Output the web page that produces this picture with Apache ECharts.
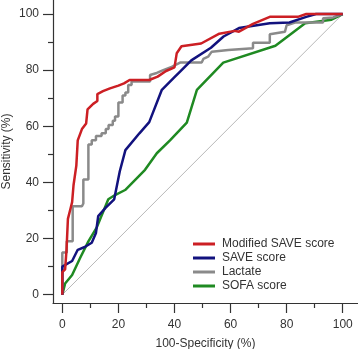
<!DOCTYPE html>
<html>
<head>
<meta charset="utf-8">
<script src="https://cdn.jsdelivr.net/npm/echarts@6/dist/echarts.min.js"></script>
<style>
  html, body { margin: 0; padding: 0; background: #fff; }
  #chart { width: 358px; height: 349px; }
</style>
</head>
<body>
<div id="chart"></div>
<script>
// ROC curves, [100-specificity, sensitivity]
const modifiedSave = [[0,0],[0,8],[1,9],[1.5,16],[2,27],[3,31],[3.5,33],[4,39],[5,46],[5.5,55],[7,59],[8.5,61],[9,66],[11,68],[12.5,69],[12.5,71.5],[14.5,72.5],[17,73.5],[20,74.5],[22,75.3],[24,76.5],[31,76.5],[34,77.7],[37,79.7],[40,81],[40.8,86],[42.5,88.5],[49.5,89.5],[56,93],[61.5,94],[63,93.7],[68,96.5],[74,99],[84,99],[87,100],[100,100]]
const saveScore = [[0,0],[0,10],[3.5,12],[5.5,16],[8,17],[10.5,18.5],[12,22],[12.8,28],[15.5,31],[18.5,34],[20.5,44],[22.5,51.5],[27.5,57.5],[31,61.5],[35.5,73],[40,77.5],[42,79.5],[46,83.5],[53,88],[57.5,92],[63,95],[74,96.7],[81,97],[87,99],[90.5,100],[100,100]]
const lactate = [[0,0],[0,15],[1.6,15],[1.6,19],[3.7,19],[3.7,31.5],[7,31.5],[7.5,32.5],[7.5,41],[9.3,41],[9.3,53.5],[10.5,53.5],[10.5,55],[12,55],[12,56.5],[14,56.5],[14,57.5],[15.5,57.5],[15.5,59],[16.5,59],[16.5,60.5],[18,60.5],[18,62],[18.8,62],[18.8,63.5],[20,63.5],[20,68.5],[21.5,68.5],[21.5,71],[22.5,71],[22.5,72],[23.5,72],[23.5,74.7],[24.7,74.7],[24.7,76],[31.3,76],[31.3,78.3],[33.7,79],[36,80],[39,81.2],[42,82.7],[49.7,82.7],[50.3,84],[52,84.8],[53.3,86.6],[59.2,87.2],[59.2,87.8],[68,87.8],[68,89.8],[74,89.8],[74,92.8],[79.4,93.7],[80,96],[83,97],[93,97],[93,98.5],[96.6,98.8],[100,100]]
const sofaScore = [[0,0],[1,4],[3.5,7],[6.3,13],[9.3,19],[12.3,24],[16.4,34],[18.8,35.5],[22.4,37.3],[29.5,44.5],[33.7,50.4],[38.4,55],[44.4,61.3],[48,73],[57.4,82.7],[76,88.7],[86.6,96.7],[96,98],[100,100]]
const reference = [[0,0],[100,100]]

const majorTicks = [0, 20, 40, 60, 80, 100]
const minorTicks = [10, 30, 50, 70, 90]

const font = 'Liberation Sans, Arial, sans-serif'
const axisColor = '#333'

const mainAxis = (name, extra) => Object.assign({
  type: 'value',
  name: name,
  nameLocation: 'middle',
  nameMoveOverlap: false,
  nameTextStyle: { fontFamily: font, fontSize: 12, color: axisColor },
  axisLine: { show: true, onZero: false, lineStyle: { color: axisColor, width: 1.2 } },
  axisTick: { show: true, length: 10, customValues: majorTicks, lineStyle: { color: axisColor, width: 1.2 } },
  splitLine: { show: false }
}, extra)

const minorAxis = (extra) => Object.assign({
  type: 'value',
  axisLine: { show: true, onZero: false, lineStyle: { color: axisColor, width: 0, opacity: 0 } },
  axisTick: { show: true, length: 5, customValues: minorTicks, lineStyle: { color: axisColor, width: 1.2 } },
  axisLabel: { show: false },
  splitLine: { show: false }
}, extra)

const chart = echarts.init(document.getElementById('chart'))

chart.setOption({
  animation: false,
  grid: { left: 53, right: 0, top: 0, bottom: 46, outerBoundsMode: 'none' },
  legend: {
    orient: 'vertical',
    left: 188,
    top: 233,
    icon: 'rect',
    itemWidth: 22,
    itemHeight: 3,
    itemGap: 2,
    textStyle: { fontFamily: font, fontSize: 12, color: axisColor, lineHeight: 12, padding: [0, 0, 0, 2] },
    data: ['Modified SAVE score', 'SAVE score', 'Lactate', 'SOFA score']
  },
  xAxis: [
    mainAxis('100-Specificity (%)', { min: -3.32, max: 105.45, nameGap: 35, axisLabel: { customValues: majorTicks, fontFamily: font, fontSize: 12, color: axisColor, margin: 16 } }),
    minorAxis({ min: -3.32, max: 105.45, position: 'bottom' })
  ],
  yAxis: [
    mainAxis('Sensitivity (%)', { min: -2.96, max: 105, nameGap: 40, axisLabel: { customValues: majorTicks, fontFamily: font, fontSize: 12, color: axisColor, margin: 14 } }),
    minorAxis({ min: -2.96, max: 105, position: 'left' })
  ],
  series: [
    { name: 'reference', type: 'line', data: reference, symbol: 'none', silent: true, lineStyle: { color: '#b8b8b8', width: 1 } },
    { name: 'SOFA score', type: 'line', data: sofaScore, symbol: 'none', itemStyle: { color: '#1f8a22' }, lineStyle: { color: '#1f8a22', width: 2.5 }, z: 3 },
    { name: 'Lactate', type: 'line', data: lactate, symbol: 'none', itemStyle: { color: '#8a8a8a' }, lineStyle: { color: '#8a8a8a', width: 2.5 }, z: 4 },
    { name: 'SAVE score', type: 'line', data: saveScore, symbol: 'none', itemStyle: { color: '#12127e' }, lineStyle: { color: '#12127e', width: 2.5 }, z: 5 },
    { name: 'Modified SAVE score', type: 'line', data: modifiedSave, symbol: 'none', itemStyle: { color: '#cc1f24' }, lineStyle: { color: '#cc1f24', width: 2.5 }, z: 6 }
  ]
})

window.addEventListener('resize', () => chart.resize())
</script>
</body>
</html>
